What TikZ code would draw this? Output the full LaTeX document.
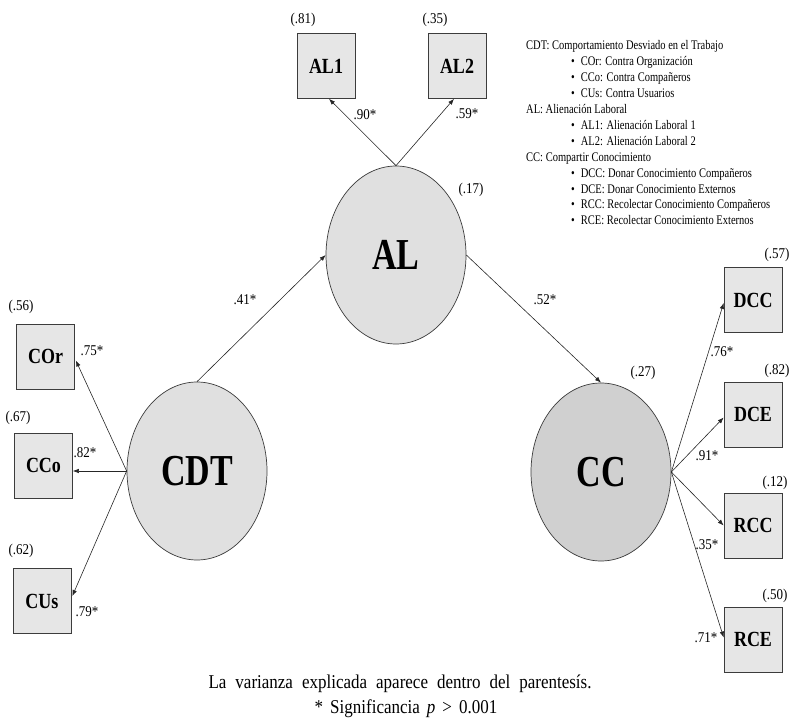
\documentclass[tikz,border=0pt]{standalone}
\usepackage{fontspec}
\setmainfont{Liberation Serif}
\usepackage{graphicx}
\usetikzlibrary{shapes.geometric,arrows.meta,calc}
\newcommand{\vst}[2]{\scalebox{1}[#1]{#2}}
\definecolor{edgec}{RGB}{60,60,60}
\definecolor{latfill}{RGB}{224,224,224}
\definecolor{ccfill}{RGB}{208,208,208}
\definecolor{boxfill}{RGB}{230,230,230}
\begin{document}
\begin{tikzpicture}[x=1pt,y=-1pt,
 latent/.style={ellipse,draw=edgec,line width=0.7pt,fill=latfill,inner sep=0pt,minimum width=140pt,minimum height=178pt,font=\fontsize{34}{34}\selectfont\bfseries},
 obs/.style={rectangle,draw=edgec,line width=0.7pt,fill=boxfill,inner sep=0pt,minimum width=58pt,minimum height=65pt,font=\fontsize{18}{18}\selectfont\bfseries},
 num/.style={inner sep=0pt,font=\fontsize{13}{13}\selectfont},
 leg/.style={inner sep=0pt,anchor=base west,font=\fontsize{10.5}{12}\selectfont},
 arr/.style={draw=black!85,line width=0.6pt,-{Latex[length=6pt,width=4.5pt]}}]
\useasboundingbox (0,0) rectangle (790,727);

% latent variables
\node[latent] (AL) at (396,255) {\vst{1.3}{AL}};
\node[latent] (CDT) at (197,471) {\vst{1.3}{CDT}};
\node[latent,fill=ccfill] (CC) at (601,472) {\vst{1.3}{CC}};

% observed variables
\node[obs] (AL1) at (326,66) {\vst{1.2}{AL1}};
\node[obs] (AL2) at (457,66) {\vst{1.2}{AL2}};
\node[obs] (COr) at (45.5,356.5) {\vst{1.2}{COr}};
\node[obs] (CCo) at (43.5,465.5) {\vst{1.2}{CCo}};
\node[obs] (CUs) at (42,601) {\vst{1.2}{CUs}};
\node[obs] (DCC) at (753,300) {\vst{1.2}{DCC}};
\node[obs] (DCE) at (753,414.5) {\vst{1.2}{DCE}};
\node[obs] (RCC) at (753,525.5) {\vst{1.2}{RCC}};
\node[obs] (RCE) at (753,639.5) {\vst{1.2}{RCE}};

% structural paths
\draw[arr] (CDT.north) -- (AL.west);
\draw[arr] (AL.east) -- (CC.north);
% measurement paths
\draw[arr] (AL.north) -- ($(AL1.south)+(3,0)$);
\draw[arr] (AL.north) -- ($(AL2.south)+(-3,0)$);
\draw[arr] (CDT.west) -- ($(COr.east)+(1,4)$);
\draw[arr] (CDT.west) -- (CDT.west -| CCo.east);
\draw[arr] (CDT.west) -- ($(CUs.east)+(1,-5)$);
\draw[arr] (CC.east) -- ($(DCC.west)+(0,3)$);
\draw[arr] (CC.east) -- ($(DCE.west)+(0,3)$);
\draw[arr] (CC.east) -- (RCC.west);
\draw[arr] (CC.east) -- ($(RCE.west)+(0,-2)$);

% explained variance
\node[num] (vAL1) at (303,20) {\vst{1.15}{(.81)}};
\node[num] (vAL2) at (435,20) {\vst{1.15}{(.35)}};
\node[num] (vAL) at (471,190) {\vst{1.15}{(.17)}};
\node[num] (vCC) at (643,373) {\vst{1.15}{(.27)}};
\node[num] (vCOr) at (21,307) {\vst{1.15}{(.56)}};
\node[num] (vCCo) at (18,418) {\vst{1.15}{(.67)}};
\node[num] (vCUs) at (21,551) {\vst{1.15}{(.62)}};
\node[num] (vDCC) at (777,255) {\vst{1.15}{(.57)}};
\node[num] (vDCE) at (777,371) {\vst{1.15}{(.82)}};
\node[num] (vRCC) at (775,483) {\vst{1.15}{(.12)}};
\node[num] (vRCE) at (775,596) {\vst{1.15}{(.50)}};

% loadings
\node[num] (lAL1) at (365,115) {\vst{1.15}{.90*}};
\node[num] (lAL2) at (467,114) {\vst{1.15}{.59*}};
\node[num] (lCDTAL) at (245,300) {\vst{1.15}{.41*}};
\node[num] (lALCC) at (545,300) {\vst{1.15}{.52*}};
\node[num] (lCOr) at (92,351) {\vst{1.15}{.75*}};
\node[num] (lCCo) at (85,453) {\vst{1.15}{.82*}};
\node[num] (lCUs) at (87,612) {\vst{1.15}{.79*}};
\node[num] (lDCC) at (722,352) {\vst{1.15}{.76*}};
\node[num] (lDCE) at (707,456) {\vst{1.15}{.91*}};
\node[num] (lRCC) at (707,545) {\vst{1.15}{.35*}};
\node[num] (lRCE) at (706,638) {\vst{1.15}{.71*}};

% legend
\node[leg] (g1) at (526,50) {\vst{1.25}{CDT: Comportamiento Desviado en el Trabajo}};
\node[leg] (g2) at (571,65.9) {\vst{1.25}{•\hspace{6pt}COr: Contra Organización}};
\node[leg] (g3) at (571,81.8) {\vst{1.25}{•\hspace{6pt}CCo: Contra Compañeros}};
\node[leg] (g4) at (571,97.7) {\vst{1.25}{•\hspace{6pt}CUs: Contra Usuarios}};
\node[leg] (g5) at (526,113.6) {\vst{1.25}{AL: Alienación Laboral}};
\node[leg] (g6) at (571,129.5) {\vst{1.25}{•\hspace{6pt}AL1: Alienación Laboral 1}};
\node[leg] (g7) at (571,145.4) {\vst{1.25}{•\hspace{6pt}AL2: Alienación Laboral 2}};
\node[leg] (g8) at (526,161.3) {\vst{1.25}{CC: Compartir Conocimiento}};
\node[leg] (g9) at (571,177.2) {\vst{1.25}{•\hspace{6pt}DCC: Donar Conocimiento Compañeros}};
\node[leg] (g10) at (571,193.1) {\vst{1.25}{•\hspace{6pt}DCE: Donar Conocimiento Externos}};
\node[leg] (g11) at (571,209) {\vst{1.25}{•\hspace{6pt}RCC: Recolectar Conocimiento Compañeros}};
\node[leg] (g12) at (571,224.9) {\vst{1.25}{•\hspace{6pt}RCE: Recolectar Conocimiento Externos}};

% caption
\node[inner sep=0pt,font=\fontsize{17}{17}\selectfont] (cap1) at (400,684) {\vst{1.15}{\spaceskip=9pt La varianza explicada aparece dentro del parentesís.}};
\node[inner sep=0pt,font=\fontsize{17}{17}\selectfont] (cap2) at (406,709) {\vst{1.15}{\spaceskip=7pt * Significancia \textit{p} > 0.001}};
\end{tikzpicture}
\end{document}
